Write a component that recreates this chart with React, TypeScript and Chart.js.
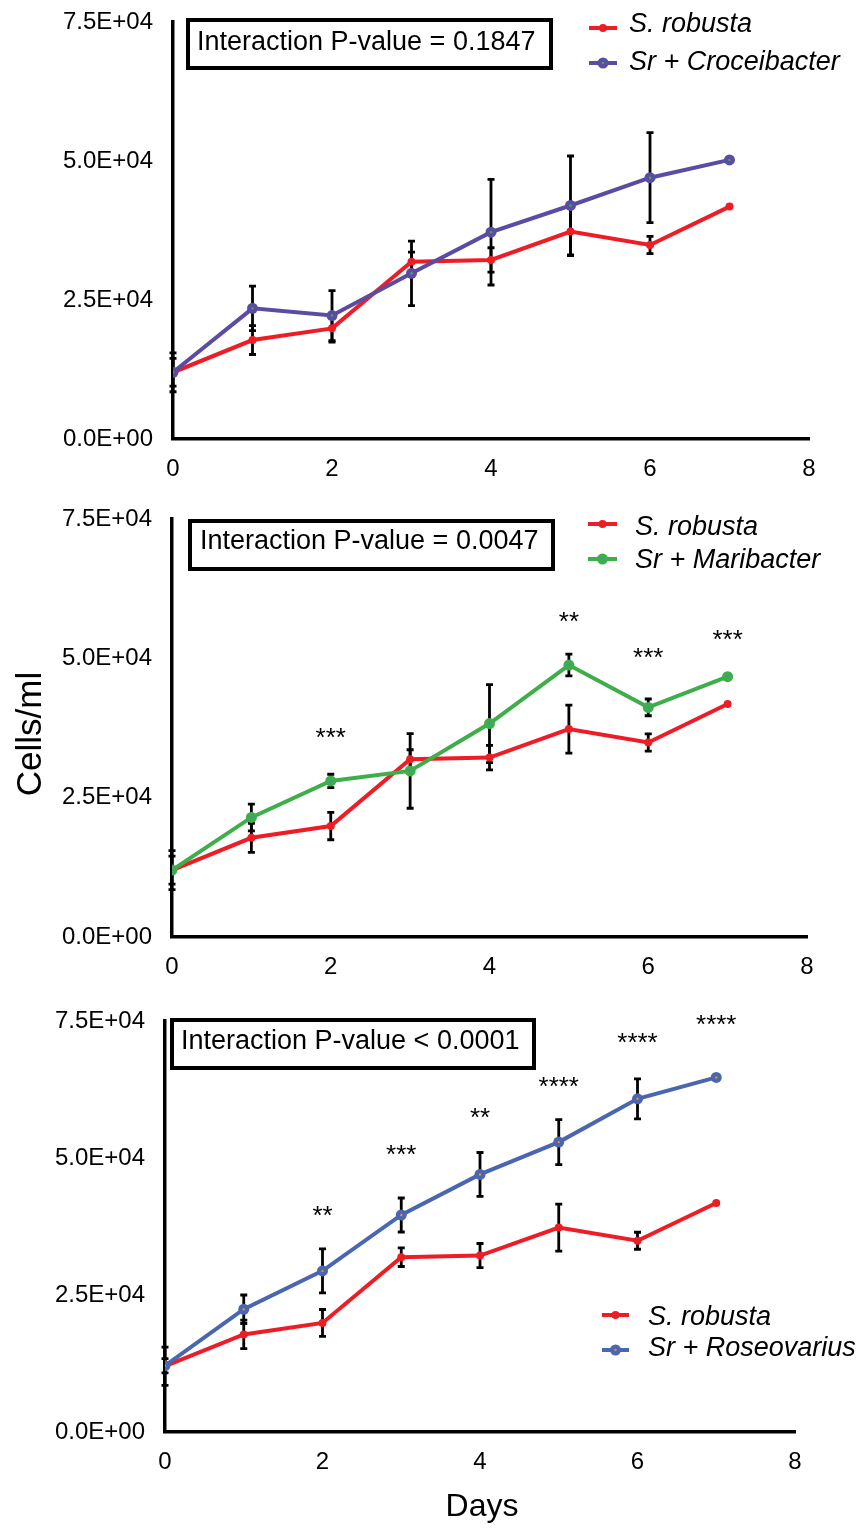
import React, { useEffect, useRef } from "react";
import { Chart, registerables } from "chart.js";
Chart.register(...registerables);

const days = [0, 1, 2, 3, 4, 5, 6, 7];
const robusta = [12000, 17800, 19900, 31900, 32200, 37300, 34900, 41800];
const robustaErr = [3500, 2600, 2450, 1700, 2200, 4300, 1550, 0];
const croceibacter = [12000, 23500, 22200, 29800, 37200, 42000, 47000, 50200];
const croceibacterErr = [2500, 4000, 4500, 5800, 9500, 8900, 8100, 0];
const maribacter = [12000, 21450, 28000, 29800, 38300, 48800, 41200, 46700];
const maribacterErr = [2500, 2400, 1200, 6700, 7000, 1950, 1500, 0];
const roseovarius = [12100, 22400, 29400, 39600, 47000, 52900, 60800, 64700];
const roseovariusErr = [1300, 2600, 4000, 3100, 4000, 4100, 3650, 0];

const maribacterStarDays = [2, 5, 6, 7];
const maribacterStars = ["***", "**", "***", "***"];
const maribacterStarY = [36240, 57030, 50620, 53900];
const roseovariusStarDays = [2, 3, 4, 5, 6, 7];
const roseovariusStars = ["**", "***", "**", "****", "****", "****"];
const roseovariusStarY = [39900, 51120, 57800, 63450, 71600, 74800];

const yTickValues = [0, 25000, 50000, 75000];
const yTickLabels = ["0.0E+00", "2.5E+04", "5.0E+04", "7.5E+04"];
const xTickLabels = ["0", "2", "4", "6", "8"];

const FONT = "'Liberation Sans', Arial, Helvetica, sans-serif";
const RED = "#EE1D25";
const PURPLE = "#5B4BA2";
const GREEN = "#3DAE49";
const BLUE = "#4A66B0";

type Series = {
  name: string;
  values: number[];
  errors: number[];
  color: string;
  radius: number;
  center?: string;
};

type Spec = {
  top: number;
  height: number;
  left: number;
  right: number;
  areaTop: number;
  axisHeight: number;
  series: Series[];
  box: { l: number; t: number; r: number; b: number; tx: number; ty: number; text: string };
  legend: { x1: number; x2: number; tx: number; y: number[]; ty: number[] };
  starDays?: number[];
  stars?: string[];
  starY?: number[];
  yTitle?: { x: number; y: number; text: string };
  xTitle?: { x: number; y: number; text: string };
};

const robustaSeries: Series = { name: "S. robusta", values: robusta, errors: robustaErr, color: RED, radius: 4 };

const specs: Spec[] = [
  {
    top: 0, height: 490, left: 173, right: 809, areaTop: 22, axisHeight: 51,
    series: [
      robustaSeries,
      { name: "Sr + Croceibacter", values: croceibacter, errors: croceibacterErr, color: PURPLE, radius: 5.5, center: "#3DAE49" },
    ],
    box: { l: 188, t: 20, r: 551, b: 68, tx: 197, ty: 43, text: "Interaction P-value = 0.1847" },
    legend: { x1: 589, x2: 617, tx: 629, y: [28, 63], ty: [24, 62] },
  },
  {
    top: 490, height: 500, left: 172, right: 807, areaTop: 29, axisHeight: 53,
    series: [
      robustaSeries,
      { name: "Sr + Maribacter", values: maribacter, errors: maribacterErr, color: GREEN, radius: 5.5, center: "#4A86C8" },
    ],
    box: { l: 190, t: 31, r: 553, b: 79, tx: 200, ty: 52, text: "Interaction P-value = 0.0047" },
    legend: { x1: 588, x2: 617, tx: 635, y: [34, 69], ty: [37, 70] },
    starDays: maribacterStarDays, stars: maribacterStars, starY: maribacterStarY,
    yTitle: { x: 31, y: 244, text: "Cells/ml" },
  },
  {
    top: 990, height: 538, left: 165, right: 795, areaTop: 31, axisHeight: 96,
    series: [
      robustaSeries,
      { name: "Sr + Roseovarius", values: roseovarius, errors: roseovariusErr, color: BLUE, radius: 5.5, center: "#F08A30" },
    ],
    box: { l: 172, t: 30, r: 534, b: 78, tx: 181, ty: 52, text: "Interaction P-value < 0.0001" },
    legend: { x1: 602, x2: 629, tx: 648, y: [325, 360], ty: [327, 358] },
    starDays: roseovariusStarDays, stars: roseovariusStars, starY: roseovariusStarY,
    xTitle: { x: 482, y: 517, text: "Days" },
  },
];

function makePlugin(spec: Spec) {
  return {
    id: "panelExtras",
    beforeDatasetsDraw(chart: any) {
      const { ctx, scales } = chart;
      const x = scales.x, y = scales.y;
      ctx.save();
      ctx.strokeStyle = "#000";
      ctx.lineWidth = 2.8;
      for (const s of spec.series) {
        s.values.forEach((v, i) => {
          const e = s.errors[i];
          if (!e) return;
          const px = x.getPixelForValue(days[i]);
          const y1 = y.getPixelForValue(v + e);
          const y2 = y.getPixelForValue(v - e);
          ctx.beginPath();
          ctx.moveTo(px, y1);
          ctx.lineTo(px, y2);
          ctx.moveTo(px - 3.5, y1);
          ctx.lineTo(px + 3.5, y1);
          ctx.moveTo(px - 3.5, y2);
          ctx.lineTo(px + 3.5, y2);
          ctx.stroke();
        });
      }
      ctx.restore();
    },
    afterDraw(chart: any) {
      const { ctx, scales } = chart;
      const x = scales.x, y = scales.y;
      ctx.save();
      // P-value box
      const b = spec.box;
      ctx.fillStyle = "#fff";
      ctx.fillRect(b.l, b.t, b.r - b.l, b.b - b.t);
      ctx.strokeStyle = "#000";
      ctx.lineWidth = 4;
      ctx.strokeRect(b.l, b.t, b.r - b.l, b.b - b.t);
      ctx.fillStyle = "#000";
      ctx.font = `27px ${FONT}`;
      ctx.textAlign = "left";
      ctx.textBaseline = "middle";
      ctx.fillText(b.text, b.tx, b.ty);
      // legend
      const L = spec.legend;
      spec.series.forEach((s, i) => {
        const ly = L.y[i];
        ctx.strokeStyle = s.color;
        ctx.lineWidth = 4;
        ctx.beginPath();
        ctx.moveTo(L.x1, ly);
        ctx.lineTo(L.x2, ly);
        ctx.stroke();
        ctx.fillStyle = s.color;
        ctx.beginPath();
        ctx.arc((L.x1 + L.x2) / 2, ly, s.radius, 0, Math.PI * 2);
        ctx.fill();
        if (s.center) {
          ctx.fillStyle = s.center;
          ctx.beginPath();
          ctx.arc((L.x1 + L.x2) / 2, ly, 1.2, 0, Math.PI * 2);
          ctx.fill();
        }
        ctx.fillStyle = "#000";
        ctx.font = `italic 27px ${FONT}`;
        ctx.textAlign = "left";
        ctx.textBaseline = "middle";
        ctx.fillText(s.name, L.tx, L.ty[i]);
      });
      // stars
      if (spec.starDays && spec.stars && spec.starY) {
        ctx.fillStyle = "#000";
        ctx.font = `26px ${FONT}`;
        ctx.textAlign = "center";
        ctx.textBaseline = "alphabetic";
        spec.starDays.forEach((d, i) => {
          const px = x.getPixelForValue(d);
          const py = y.getPixelForValue(spec.starY![i]);
          ctx.fillText(spec.stars![i], px, py + 11);
        });
      }
      if (spec.yTitle) {
        ctx.save();
        ctx.translate(spec.yTitle.x, spec.yTitle.y);
        ctx.rotate(-Math.PI / 2);
        ctx.fillStyle = "#000";
        ctx.font = `35px ${FONT}`;
        ctx.textAlign = "center";
        ctx.textBaseline = "middle";
        ctx.fillText(spec.yTitle.text, 0, 0);
        ctx.restore();
      }
      if (spec.xTitle) {
        ctx.fillStyle = "#000";
        ctx.font = `32px ${FONT}`;
        ctx.textAlign = "center";
        ctx.textBaseline = "middle";
        ctx.fillText(spec.xTitle.text, spec.xTitle.x, spec.xTitle.y);
      }
      ctx.restore();
    },
  };
}

function Panel({ spec }: { spec: Spec }) {
  const ref = useRef<HTMLCanvasElement | null>(null);
  useEffect(() => {
    const canvas = ref.current;
    if (!canvas) return;
    const datasets: any[] = [];
    spec.series.forEach((s, idx) => {
      datasets.push({
        label: s.name,
        data: days.map((d, i) => ({ x: d, y: s.values[i] })),
        borderColor: s.color,
        backgroundColor: s.color,
        pointBackgroundColor: s.color,
        pointBorderColor: s.color,
        pointRadius: s.radius,
        pointBorderWidth: 0,
        borderWidth: 4,
        showLine: true,
        tension: 0,
        order: idx === 0 ? 3 : 2,
      });
      if (s.center) {
        datasets.push({
          label: s.name + " center",
          data: days.map((d, i) => ({ x: d, y: s.values[i] })),
          showLine: false,
          pointRadius: 1.2,
          pointBorderWidth: 0,
          pointBackgroundColor: s.center,
          borderColor: s.center,
          order: 1,
        });
      }
    });
    const chart = new Chart(canvas, {
      type: "scatter",
      data: { datasets },
      options: {
        animation: false,
        responsive: false,
        maintainAspectRatio: false,
        events: [],
        layout: { padding: { left: 0, right: 859 - spec.right, top: spec.areaTop, bottom: 0 } },
        plugins: { legend: { display: false }, tooltip: { enabled: false } },
        scales: {
          x: {
            type: "linear",
            min: 0,
            max: 8,
            grid: { display: false, drawTicks: false },
            border: { display: true, color: "#000", width: 3.5 },
            ticks: {
              stepSize: 2,
              padding: 16,
              color: "#000",
              font: { family: FONT, size: 24 },
              callback: (v: any) => xTickLabels[Math.round(Number(v) / 2)] ?? "",
            },
            afterFit: (s: any) => {
              s.height = spec.axisHeight;
              s.paddingLeft = 0;
              s.paddingRight = 0;
            },
          },
          y: {
            type: "linear",
            min: 0,
            max: 75000,
            grid: { display: false, drawTicks: false },
            border: { display: true, color: "#000", width: 3.5 },
            ticks: {
              stepSize: 25000,
              padding: 20,
              color: "#000",
              font: { family: FONT, size: 24 },
              callback: (v: any) => {
                const k = yTickValues.indexOf(Number(v));
                return k >= 0 ? yTickLabels[k] : "";
              },
            },
            afterFit: (s: any) => {
              s.width = spec.left;
              s.paddingTop = 0;
              s.paddingBottom = 0;
            },
          },
        },
      } as any,
      plugins: [makePlugin(spec) as any],
    });
    return () => chart.destroy();
  }, [spec]);
  return (
    <canvas
      ref={ref}
      width={859}
      height={spec.height}
      style={{ position: "absolute", left: 0, top: spec.top, width: 859, height: spec.height, display: "block" }}
    />
  );
}

export default function App() {
  return (
    <div style={{ position: "absolute", left: 0, top: 0, width: 859, height: 1528, background: "#fff", overflow: "hidden" }}>
      {specs.map((s, i) => (
        <Panel key={i} spec={s} />
      ))}
    </div>
  );
}
